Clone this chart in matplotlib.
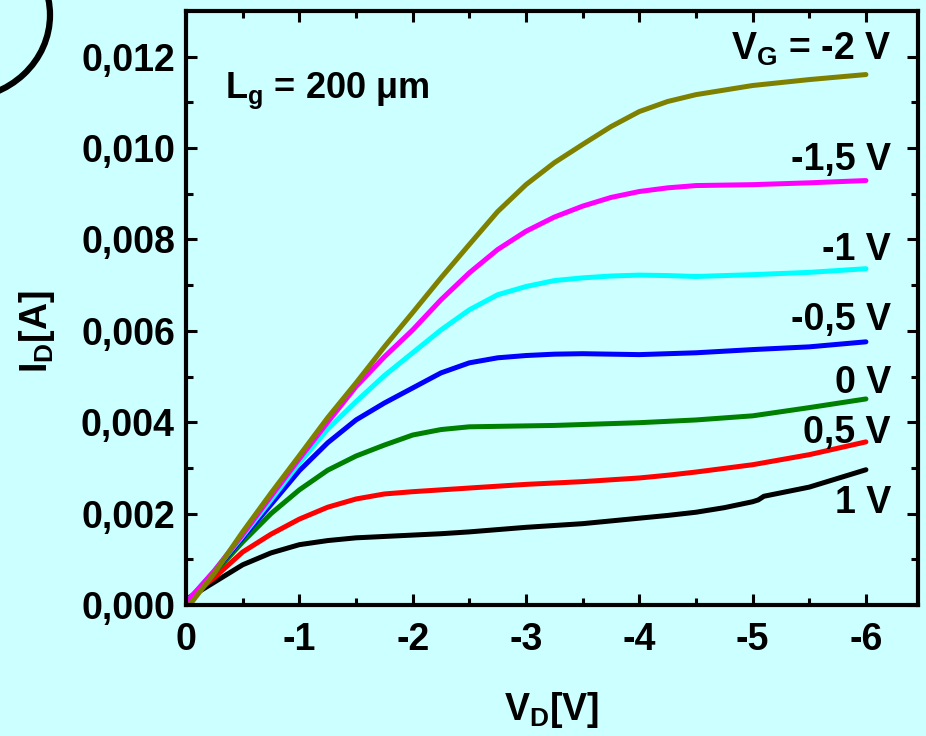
import numpy as np
import matplotlib
matplotlib.use('Agg')
import matplotlib.pyplot as plt
from matplotlib.patches import Ellipse

plt.rcParams['font.family'] = ['Liberation Sans', 'DejaVu Sans']
plt.rcParams['font.weight'] = 'bold'
plt.rcParams['mathtext.fontset'] = 'custom'
plt.rcParams['mathtext.rm'] = 'Liberation Sans:bold'
plt.rcParams['mathtext.it'] = 'Liberation Sans:bold'
plt.rcParams['mathtext.bf'] = 'Liberation Sans:bold'
plt.rcParams['mathtext.default'] = 'rm'

# drain voltage (V) and drain current (A)
vd = [0, -0.25, -0.5, -0.75, -1, -1.25, -1.5, -1.75, -2, -2.25, -2.5, -2.75,
      -3, -3.25, -3.5, -3.75, -4, -4.25, -4.5, -5, -5.5, -6]
vd_black = [0, -0.25, -0.5, -0.75, -1, -1.25, -1.5, -1.75, -2, -2.25, -2.5, -2.75,
            -3, -3.25, -3.5, -3.75, -4, -4.25, -4.5, -4.75, -5, -5.05, -5.1, -5.5, -6]

i_m2 = [-0.0001, 0.0007, 0.0016, 0.00245, 0.00327, 0.0041, 0.00486, 0.00565, 0.0064,
        0.00716, 0.00789, 0.00861, 0.0092, 0.00968, 0.01008, 0.01047, 0.0108, 0.01102,
        0.01117, 0.01137, 0.0115, 0.01161]
i_m15 = [0.00005, 0.00075, 0.00154, 0.00238, 0.0032, 0.004, 0.00478, 0.00543, 0.00602,
         0.00668, 0.00727, 0.00778, 0.00818, 0.00849, 0.00873, 0.00892, 0.00905, 0.00913,
         0.00918, 0.0092, 0.00924, 0.00929]
i_m1 = [0.00005, 0.00075, 0.00151, 0.0023, 0.00311, 0.00385, 0.00445, 0.00502, 0.00552,
        0.00602, 0.00646, 0.00679, 0.00697, 0.0071, 0.00716, 0.0072, 0.00722, 0.00721,
        0.00719, 0.00723, 0.00728, 0.00736]
i_m05 = [0.00005, 0.00073, 0.00147, 0.0022, 0.00294, 0.00355, 0.00405, 0.00442, 0.00475,
         0.00508, 0.0053, 0.00541, 0.00546, 0.00549, 0.0055, 0.00549, 0.00548, 0.0055,
         0.00552, 0.00559, 0.00565, 0.00576]
i_0 = [0.00005, 0.0007, 0.00138, 0.002, 0.00252, 0.00295, 0.00326, 0.0035, 0.00372,
       0.00384, 0.0039, 0.00391, 0.00392, 0.00393, 0.00395, 0.00397, 0.00399, 0.00402,
       0.00405, 0.00414, 0.00432, 0.00451]
i_05 = [0.0001, 0.0006, 0.00116, 0.00155, 0.00188, 0.00214, 0.00232, 0.00243, 0.00248,
        0.00252, 0.00256, 0.0026, 0.00264, 0.00267, 0.0027, 0.00274, 0.00278, 0.00284,
        0.00291, 0.00307, 0.00329, 0.00357]
i_1 = [0.00012, 0.0005, 0.00088, 0.00114, 0.00132, 0.00141, 0.00147, 0.0015, 0.00153,
       0.00156, 0.0016, 0.00165, 0.0017, 0.00174, 0.00178, 0.00184, 0.0019, 0.00196,
       0.00203, 0.00213, 0.00226, 0.0023, 0.00238, 0.00258, 0.00296]

curves = [
    (vd_black, i_1, 'black', '1 V', 0.00202),
    (vd, i_05, '#ff0000', '0,5 V', 0.00355),
    (vd, i_0, '#008000', '0 V', 0.00464),
    (vd, i_m05, '#0000ff', '-0,5 V', 0.00602),
    (vd, i_m1, '#00ffff', '-1 V', 0.00756),
    (vd, i_m15, '#ff00ff', '-1,5 V', 0.00953),
    (vd, i_m2, '#808000', r'V$_\mathrm{G}$ = -2 V', 0.01194),
]

xticks = [0, -1, -2, -3, -4, -5, -6]
xticklabels = ['0', '-1', '-2', '-3', '-4', '-5', '-6']
yticks = [0, 0.002, 0.004, 0.006, 0.008, 0.010, 0.012]
yticklabels = ['0,000', '0,002', '0,004', '0,006', '0,008', '0,010', '0,012']

bg = '#ccffff'
fig = plt.figure(figsize=(9.26, 7.36), dpi=100, facecolor=bg)
ax = fig.add_axes([0.2009, 0.178, 0.7905, 0.807])
ax.set_facecolor(bg)

for x, y, c, lab, ly in curves:
    ax.plot(x, y, color=c, lw=3.6, solid_capstyle='round', solid_joinstyle='round')
    ax.text(-6.22, ly, lab, fontsize=27, fontweight='bold', ha='right', va='baseline')

ax.text(-0.345, 0.0111, r'L$_\mathrm{g}$ = 200 μm', fontsize=26, fontweight='bold',
        ha='left', va='baseline')

ax.set_xlim(0, -6.46)
ax.set_ylim(0, 0.0130)
ax.set_xticks(xticks)
ax.set_xticklabels(xticklabels)
ax.set_xticks(np.arange(-0.5, -6.4, -1.0), minor=True)
ax.set_yticks(yticks)
ax.set_yticklabels(yticklabels)
ax.set_yticks(np.arange(0.001, 0.013, 0.002), minor=True)

for s in ax.spines.values():
    s.set_linewidth(3)
ax.tick_params(which='both', direction='in', top=True, right=True, width=2.2)
ax.tick_params(which='major', length=8, labelsize=27)
ax.tick_params(axis='x', which='major', pad=12)
ax.tick_params(axis='y', which='major', pad=8)
ax.tick_params(which='minor', length=5)
for lbl in ax.get_xticklabels() + ax.get_yticklabels():
    lbl.set_fontweight('bold')

fig.text(0.040, 0.55, r'I$_\mathrm{D}$[A]', rotation=90, fontsize=27,
         fontweight='bold', ha='center', va='center')
fig.text(0.596, 0.008, r'V$_\mathrm{D}$[V]', fontsize=27, fontweight='bold',
         ha='center', va='bottom')

# partial circle in the top left corner
fig.add_artist(Ellipse((-40 / 926, 1 - 15 / 736), 180 / 926, 168 / 736,
                       transform=fig.transFigure, fill=False, lw=4.5,
                       edgecolor='black', clip_on=False))

fig.savefig('out.png', dpi=100, facecolor=bg)
